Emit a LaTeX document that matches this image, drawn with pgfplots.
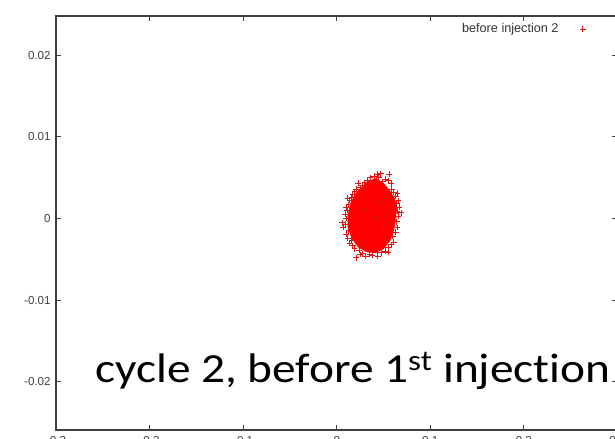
\documentclass[border=0pt]{standalone}
\usepackage{pgfplots}
\pgfplotsset{compat=1.18}
\usepackage{fontspec}
\setmainfont{Liberation Sans}
\newfontfamily\carlito[FakeStretch=1.145, Ligatures=NoCommon]{Carlito}
\definecolor{axgray}{HTML}{404040}
\definecolor{ptred}{RGB}{225,20,20}
\begin{document}
\begin{tikzpicture}
\begin{axis}[
  at={(42pt,6.75pt)}, anchor=south west,
  scale only axis, width=421.1pt, height=310.5pt,
  xmin=-0.3, xmax=0.3, ymin=-0.0259, ymax=0.0248,
  scaled x ticks=false, scaled y ticks=false,
  xtick={-0.3,-0.2,-0.1,0,0.1,0.2,0.3},
  xticklabels={-0.3,-0.2,-0.1,0,0.1,0.2,0.3},
  ytick={-0.02,-0.01,0,0.01,0.02},
  yticklabels={-0.02,-0.01,0,0.01,0.02},
  tick pos=both, tick align=inside,
  major tick length=3.75pt,
  tick style={axgray, line width=0.6pt},
  axis line style={axgray, line width=1pt},
  ticklabel style={font=\fontsize{8.7}{10}\selectfont, text=black!75},
  yticklabel style={xshift=-0.5pt},
  xticklabel style={yshift=-1pt},
  legend plot pos=right,
  legend style={draw=none, fill=none, inner sep=0pt, at={(axis description cs:0.944,0.968)}, anchor=east,
    font=\fontsize{9.5}{11}\selectfont, cells={anchor=east},
    /tikz/every odd column/.append style={column sep=14pt}},
  legend cell align=right,
]
\addplot[fill=red, draw=red, forget plot] coordinates {
(0.042,0.0049) (0.050,0.0043) (0.056,0.0035) (0.062,0.0024) (0.064,0.0012)
(0.063,0.0000) (0.061,-0.0014) (0.057,-0.0027) (0.050,-0.0037) (0.041,-0.0042)
(0.032,-0.0041) (0.023,-0.0035) (0.016,-0.0024) (0.012,-0.0010) (0.012,0.0004)
(0.015,0.0019) (0.020,0.0030) (0.027,0.0039) (0.034,0.0046) (0.042,0.0049)
} -- cycle;
\addplot[only marks, mark=+, mark size=2.2pt, draw=ptred, fill=ptred, mark options={solid, draw=ptred, line width=0.7pt}] coordinates {
(0.036,0.0050) (0.040,0.0052) (0.043,0.0054) (0.047,0.0055) (0.056,0.0054)
(0.045,0.0050) (0.052,0.0048) (0.055,0.0046) (0.058,0.0043) (0.049,0.0045)
(0.033,0.0047) (0.030,0.0044) (0.023,0.0043) (0.027,0.0041)
(0.059,0.0036) (0.061,0.0032) (0.065,0.0031) (0.063,0.0027) (0.066,0.0022) (0.064,0.0018)
(0.067,0.0014) (0.069,0.0007) (0.065,0.0009) (0.066,0.0003) (0.064,-0.0004) (0.065,-0.0011) (0.063,-0.0017)
(0.060,-0.0022) (0.061,-0.0029) (0.058,-0.0032) (0.055,-0.0036) (0.055,-0.0041) (0.052,-0.0040)
(0.048,-0.0042) (0.043,-0.0042) (0.044,-0.0046) (0.038,-0.0045) (0.035,-0.0044) (0.031,-0.0046)
(0.028,-0.0043) (0.025,-0.0044) (0.021,-0.0048) (0.024,-0.0039)
(0.019,-0.0037) (0.017,-0.0033) (0.014,-0.0030) (0.016,-0.0027) (0.012,-0.0024) (0.010,-0.0019) (0.013,-0.0015)
(0.007,-0.0011) (0.006,-0.0005) (0.009,-0.0007) (0.010,0.0000) (0.009,0.0005) (0.011,0.0010) (0.010,0.0014)
(0.013,0.0017) (0.014,0.0022) (0.012,0.0025) (0.016,0.0026) (0.017,0.0030) (0.019,0.0033) (0.021,0.0036) (0.025,0.0038)
(0.030,0.0010) (0.040,0.0000) (0.045,0.0020) (0.035,-0.0020) (0.050,-0.0010)
};
\addlegendentry{\textcolor{black!80}{before injection 2}}
\end{axis}
\node[anchor=base west, inner sep=0pt, font=\carlito\fontsize{31}{31}\selectfont] at (71.25pt,42pt) {cycle 2, before 1\textsuperscript{st} injection};
\pgfresetboundingbox
\path[use as bounding box] (0,0) rectangle (461.25pt,329.25pt);
\end{tikzpicture}
\end{document}
